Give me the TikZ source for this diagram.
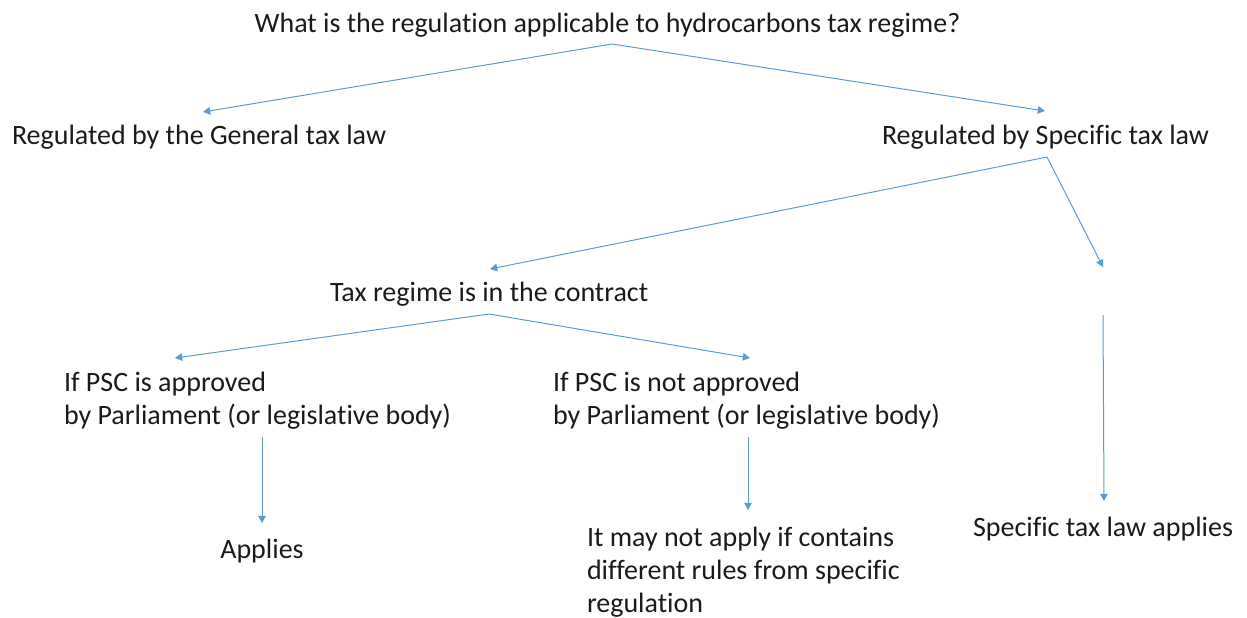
\documentclass[tikz,border=0pt]{standalone}
\usepackage{fontspec}
\setmainfont{Carlito}[Ligatures=NoCommon]
\usetikzlibrary{arrows.meta,calc}
\definecolor{lineblue}{HTML}{5B9BD5}
\definecolor{txtc}{HTML}{1A1A1A}
\begin{document}
\begin{tikzpicture}[x=0.5pt,y=-0.5pt,
  lbl/.style={inner sep=0pt, outer sep=0pt, font=\fontsize{14}{16.5}\selectfont, text=txtc, align=left},
  conn/.style={draw=lineblue, line width=0.5pt, -{Triangle[length=3.6pt,width=3.8pt]}, fill=none}]
\useasboundingbox (0,0) rectangle (1247,617);
% texts
\node[lbl, anchor=base] (title) at (607.5,32) {What is the regulation applicable to hydrocarbons tax regime?};
\node[lbl, anchor=base west] (gen) at (12,144) {Regulated by the General tax law};
\node[lbl, anchor=base west] (spec) at (882,144) {Regulated by Specific tax law};
\node[lbl, anchor=base west] (tax) at (330,301) {Tax regime is in the contract};
\node[lbl, anchor=base west] (pscA) at (64,424) {If PSC is approved\\by Parliament (or legislative body)};
\node[lbl, anchor=base west] (pscB) at (553,424) {If PSC is not approved\\by Parliament (or legislative body)};
\node[lbl, anchor=base] (applies) at (262,558) {Applies};
\node[lbl, anchor=base west] (maynot) at (587,612) {It may not apply if contains\\different rules from specific\\regulation};
\node[lbl, anchor=base west] (sapp) at (973,536) {Specific tax law applies};
% empty branch points on the right
\coordinate (gapA) at ($(spec.base west)+(221,123)$);
\coordinate (gapB) at ($(spec.base west)+(221,171)$);
% connectors
\draw[conn] ($(title.base)+(4.5,12)$) -- ($(gen.base west)+(191,-32)$);
\draw[conn] ($(title.base)+(4.5,12)$) -- ($(spec.base west)+(163,-33)$);
\draw[conn] ($(spec.base west)+(165,13)$) -- ($(tax.base west)+(160,-32)$);
\draw[conn] ($(spec.base west)+(165,13)$) -- (gapA);
\draw[conn] (gapB) -- ($(sapp.base west)+(131,-35)$);
\draw[conn] ($(tax.base west)+(159,13)$) -- ($(pscA.base west)+(111,-66)$);
\draw[conn] ($(tax.base west)+(159,13)$) -- ($(pscB.base west)+(197,-66)$);
\draw[conn] ($(pscA.base west)+(198,13)$) -- ($(applies.base)+(0,-35)$);
\draw[conn] ($(pscB.base west)+(195,13)$) -- ($(maynot.base west)+(161,-102)$);
\end{tikzpicture}
\end{document}
